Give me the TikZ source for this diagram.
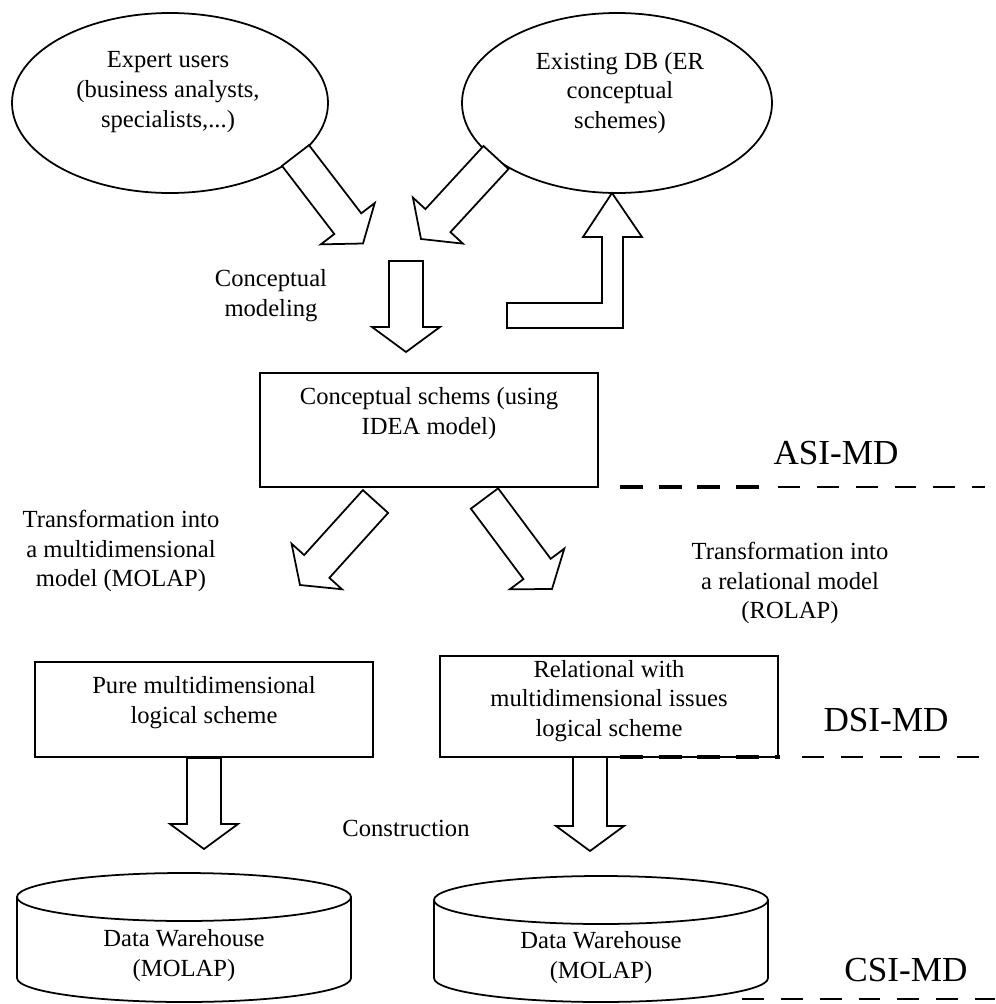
\documentclass[tikz,border=0pt]{standalone}
\usepackage{fontspec}
\setmainfont{Liberation Serif}
\usetikzlibrary{calc,positioning,shapes.geometric}

\newcommand{\blockarrow}[2]{%
  \coordinate (neck) at ($(#2)!0.5cm!(#1)$);
  \draw[blockarr] ($(#1)!0.34cm!90:(#2)$) -- ($(neck)!0.34cm!-90:(#1)$)
    -- ($(neck)!0.68cm!-90:(#1)$) -- (#2) -- ($(neck)!0.68cm!90:(#1)$)
    -- ($(neck)!0.34cm!90:(#1)$) -- ($(#1)!0.34cm!-90:(#2)$) -- cycle;
}
\newcommand{\warehouse}[3]{%
  \draw[box] (#1-167,#2) -- (#1-167,#3) arc[start angle=180, end angle=360, x radius=3.34cm, y radius=0.48cm] -- (#1+167,#2);
  \draw[box] (#1,#2) ellipse [x radius=3.34cm, y radius=0.48cm];
}

\begin{document}
\begin{tikzpicture}[x=0.2mm, y=-0.2mm,
    bubble/.style={draw, ellipse, line width=1pt, minimum width=6.3cm, minimum height=3.6cm, inner sep=0pt},
    box/.style={draw, line width=1pt, fill=white, inner sep=0pt},
    lbl/.style={align=center, inner sep=0pt, font=\fontsize{14}{17}\selectfont},
    tier/.style={inner sep=0pt, font=\fontsize{20}{24}\selectfont},
    blockarr/.style={draw, fill=white, line width=1pt, line join=miter},
    sep/.style={line width=1.1pt, dash pattern=on 12.5pt off 9.6pt},
    sepbold/.style={line width=2.4pt, dash pattern=on 13pt off 9pt}
]
\useasboundingbox (0,0) rectangle (995,1004);

\node[bubble, minimum width=6.32cm] (users) at (170,103) {};
\node[lbl] (users-txt) at (168,92) {Expert users\\(business analysts,\\specialists,...)};
\node[bubble, minimum width=6.2cm] (db) at (617,103) {};
\node[lbl] (db-txt) at (620,93) {Existing DB (ER\\conceptual\\schemes)};

\coordinate (u-tail) at (295.5,155.5);
\coordinate (u-tip) at (363,243.5);
\coordinate (db-tail) at (496,157.5);
\coordinate (db-tip) at (421,239);
\blockarrow{u-tail}{u-tip}
\blockarrow{db-tail}{db-tip}

\coordinate (back-tip) at (612,193);
\draw[blockarr] (507,303) -- (602,303) -- (602,237) -- (583,237) -- (back-tip)
  -- (642,237) -- (623,237) -- (623,328) -- (507,328) -- cycle;

\node[lbl] (cm-txt) at (271,296) {Conceptual\\modeling};
\coordinate (cm-tail) at (406,261);
\coordinate (cm-tip) at (406,352);
\blockarrow{cm-tail}{cm-tip}

\node[box, minimum width=6.76cm, minimum height=2.28cm] (idea) at (429,430) {};
\node[lbl] (idea-txt) at (429,414) {Conceptual schems (using\\IDEA model)};

\node[tier] (asi) at (836,453) {ASI-MD};
\draw[sepbold] (620,487) -- (762,487);
\draw[sep] (778,487) -- (985,487);

\coordinate (mo-tail) at (375.5,501.5);
\coordinate (mo-tip) at (300,585);
\coordinate (ro-tail) at (484.5,498.5);
\coordinate (ro-tip) at (552,589);
\blockarrow{mo-tail}{mo-tip}
\blockarrow{ro-tail}{ro-tip}
\node[lbl] (mo-txt) at (121,551) {Transformation into\\a multidimensional\\model (MOLAP)};
\node[lbl] (ro-txt) at (790,583) {Transformation into\\a relational model\\(ROLAP)};

\node[box, minimum width=6.76cm, minimum height=1.9cm] (pure) at (204,709.5) {};
\node[lbl] (pure-txt) at (204,703) {Pure multidimensional\\logical scheme};
\node[box, minimum width=6.76cm, minimum height=2.02cm] (rel) at (609,706.5) {};
\node[lbl] (rel-txt) at (609,701) {Relational with\\multidimensional issues\\logical scheme};

\node[tier] (dsi) at (886,720) {DSI-MD};
\draw[sepbold] (620,757) -- (780,757);
\draw[sep] (802,757) -- (985,757);

\coordinate (c1-tip) at (204,849);
\coordinate (c2-tail) at (590,757);
\coordinate (c2-tip) at (590,851);
\blockarrow{pure.south}{c1-tip}
\blockarrow{c2-tail}{c2-tip}
\node[lbl] (con-txt) at (406,828) {Construction};

\warehouse{184}{897}{978}
\node[lbl] (dw-left) at (184,956) {Data Warehouse\\(MOLAP)};
\warehouse{601}{900}{978}
\node[lbl] (dw-right) at (601,958) {Data Warehouse\\(MOLAP)};

\node[tier] (csi) at (906,970) {CSI-MD};
\draw[sep] (742,999) -- (995,999);
\end{tikzpicture}
\end{document}
